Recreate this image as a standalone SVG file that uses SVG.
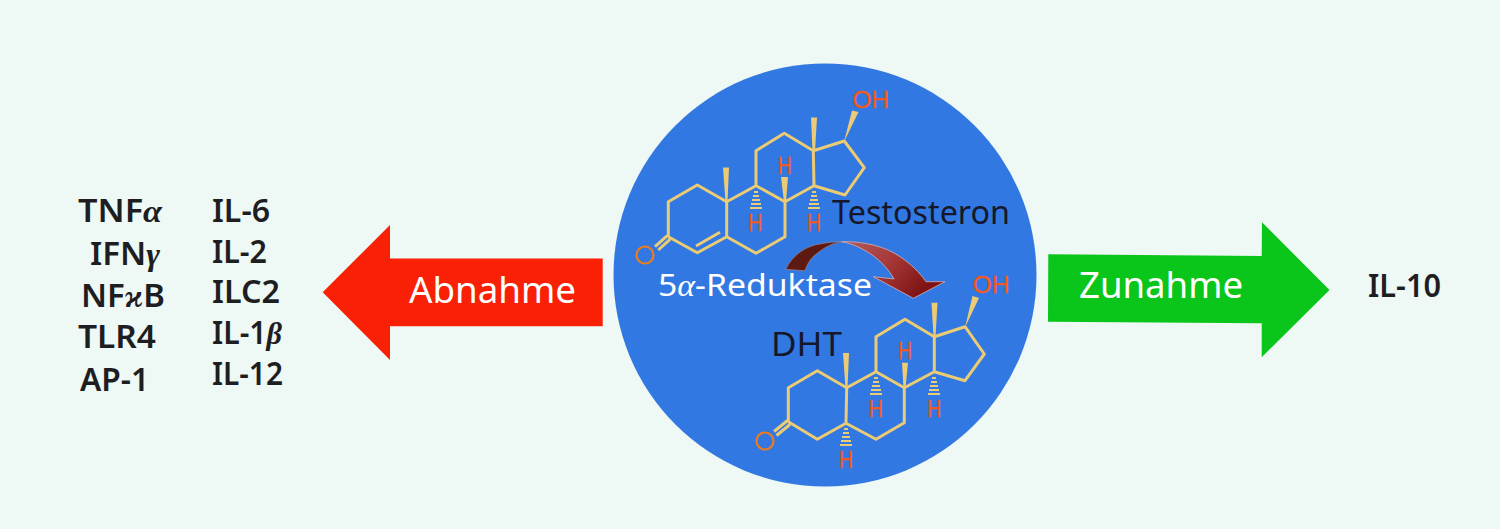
<svg xmlns="http://www.w3.org/2000/svg" width="1500" height="529" viewBox="0 0 1500 529">
<defs>
<linearGradient id="curve" gradientUnits="userSpaceOnUse" x1="850" y1="240" x2="915" y2="298"><stop offset="0" stop-color="#b0585a"/><stop offset="0.5" stop-color="#a83838"/><stop offset="1" stop-color="#7e1414"/></linearGradient>
</defs>
<style>
.bond{fill:none;stroke:#ebcb74;stroke-width:3;stroke-linejoin:round}
.wedge{fill:#ebcb74}
.hash{stroke:#ebcb74;stroke-width:2}
.at{font-family:"Liberation Sans",sans-serif;font-size:24px;fill:#f4581a;stroke:#f4581a;stroke-width:0.3;text-anchor:middle}
.o{fill:none;stroke:#ee7a1e;stroke-width:2.2}
.lab{font-family:"Noto Sans",sans-serif;font-size:32px;font-weight:600;fill:#1e1e22}
.name{font-family:"Noto Sans",sans-serif;font-size:32px;fill:#15172a}
.arr{font-family:"Noto Sans",sans-serif;font-size:36px;font-weight:400;fill:#fff}
.gr{font-family:"Liberation Serif",serif;font-style:italic}
</style>
<rect width="1500" height="529" fill="#eef8f5"/>
<g id="connectors">
<polygon points="322.7,292.3 390,225 390,258.5 602.7,258.5 602.7,326.3 390,326.3 390,360" fill="#fa2006"/>
<polygon points="1048.3,254.3 1261.7,256 1262,222.3 1329.5,290 1261.7,357.3 1261.7,323.3 1048,321.7" fill="#0ac61a"/>
</g>
<g id="node-circle"><circle cx="825" cy="275" r="211.5" fill="#3278e2"/></g>
<g id="node-testosteron">
<path class="bond" d="M668.3,236.7V201.7L697.3,185L726.7,201.7V236.7L697.3,252.7L668.3,236.7M726.7,201.7L756,185.7L785,201.7V236.7L756,253.3L726.7,236.7M756,185.7V150.7L784.3,133.3L813.3,150.7L814,185.7L785,201.7M813.3,150.7L844.3,141L864.3,167.7L845,195L814,185.7M667.3,235.7L655,246.7M670,239.3L658.3,250M696,246L720,232.3"/>
<polygon class="wedge" points="844,142 852,110.5 858.5,112"/>
<polygon class="wedge" points="811,117.5 817,117.5 815,151 812.5,151"/>
<polygon class="wedge" points="723,167.5 729,167.5 727.5,202 725.5,202"/>
<polygon class="wedge" points="781,177 788,177 786,202 784,202"/>
<path class="hash" d="M754,192h4M753,196h6M752,200h8M751,204h10M750,208h12M812,192h4M811,196h6M810,200h8M809,204h10M808,208h12"/>
<circle class="o" cx="645" cy="255" r="8.5"/>
<text class="at" x="870.7" y="107.5" textLength="37" lengthAdjust="spacingAndGlyphs">OH</text>
<text class="at" x="784.7" y="173.5" textLength="14" lengthAdjust="spacingAndGlyphs">H</text>
<text class="at" x="755.3" y="231" textLength="14" lengthAdjust="spacingAndGlyphs">H</text>
<text class="at" x="814" y="231" textLength="14" lengthAdjust="spacingAndGlyphs">H</text>
<text class="name" x="832" y="224" textLength="178" lengthAdjust="spacingAndGlyphs">Testosteron</text>
</g>
<g id="node-reduktase">
<path d="M785.7,269.3C792,256 805,246 820,244C828,242.5 835,241.7 841.7,241.7C835,242.5 825,246 813,256.7C809,261 806.500,266 805,270.7Z" fill="#5c1a12" stroke="#b08a80" stroke-width="0.6"/>
<path d="M841.7,241.7C862,241 885,246 900,256.7C911,264 920,273 926,281.700L945,281.700L913.300,298.300L873.300,276.700L894,279C888,268 878,258 866,251C858,246.500 850,243 841.7,241.700Z" fill="url(#curve)" stroke="#d5aeb0" stroke-width="0.8"/>
<text x="658" y="296" font-family="Noto Sans,sans-serif" font-size="31" fill="#fff" textLength="214" lengthAdjust="spacingAndGlyphs">5<tspan class="gr">α</tspan>-Reduktase</text>
</g>
<g id="node-dht">
<path class="bond" d="M788.3,421.7V387.7L817.3,370.7L846.7,387.7L846,423.3L817.3,439.3L788.3,421.7M846.7,387.7L876,371.7L904.3,387.7V422.7L876,439.3L846,423.3M876,371.7V336.7L905,319.3L934.3,336.7V371.7L904.3,387.7M934.3,336.7L965,326.7L984.3,354L965,380.7L934.3,371.7M787.500,420.500L774,431.500M790,424.500L776.500,435.500"/>
<polygon class="wedge" points="965,327.500 972.500,296 979,298"/>
<polygon class="wedge" points="931.5,302.700 937.5,302.700 935.5,337 933.5,337"/>
<polygon class="wedge" points="843,353 849,353 847.5,388 845.5,388"/>
<polygon class="wedge" points="902,362.700 908,362.700 905.5,388 903.5,388"/>
<path class="hash" d="M874,378h4M873,382h6M872,386h8M871,390h10M870,394h12M932,378h4M931,382h6M930,386h8M929,390h10M928,394h12M844,429h4M843,433h6M842,437h8M841,441h10M840,445h12"/>
<circle class="o" cx="765" cy="441" r="8.5"/>
<text class="at" x="991" y="293" textLength="37" lengthAdjust="spacingAndGlyphs">OH</text>
<text class="at" x="905" y="359" textLength="14" lengthAdjust="spacingAndGlyphs">H</text>
<text class="at" x="875.7" y="416.500" textLength="14" lengthAdjust="spacingAndGlyphs">H</text>
<text class="at" x="934.3" y="416.500" textLength="14" lengthAdjust="spacingAndGlyphs">H</text>
<text class="at" x="846" y="468" textLength="14" lengthAdjust="spacingAndGlyphs">H</text>
<text class="name" x="771" y="356" textLength="71" lengthAdjust="spacingAndGlyphs">DHT</text>
</g>
<g id="node-abnahme"><text class="arr" x="409" y="303" textLength="167" lengthAdjust="spacingAndGlyphs">Abnahme</text></g>
<g id="node-zunahme"><text class="arr" x="1079" y="298" textLength="164" lengthAdjust="spacingAndGlyphs">Zunahme</text></g>
<g id="node-il10"><text class="lab" x="1368" y="297" textLength="73" lengthAdjust="spacingAndGlyphs">IL-10</text></g>
<g id="node-left1">
<text class="lab" x="78" y="222" textLength="84" lengthAdjust="spacingAndGlyphs">TNF<tspan class="gr">α</tspan></text>
<text class="lab" x="90" y="265" textLength="70" lengthAdjust="spacingAndGlyphs">IFN<tspan class="gr">γ</tspan></text>
<text class="lab" x="81" y="307" textLength="84" lengthAdjust="spacingAndGlyphs">NF<tspan class="gr">ϰ</tspan>B</text>
<text class="lab" x="78" y="348" textLength="78" lengthAdjust="spacingAndGlyphs">TLR4</text>
<text class="lab" x="80" y="391" textLength="69" lengthAdjust="spacingAndGlyphs">AP-1</text>
</g>
<g id="node-left2">
<text class="lab" x="212" y="222" textLength="58" lengthAdjust="spacingAndGlyphs">IL-6</text>
<text class="lab" x="212" y="263" textLength="55" lengthAdjust="spacingAndGlyphs">IL-2</text>
<text class="lab" x="212" y="303" textLength="68" lengthAdjust="spacingAndGlyphs">ILC2</text>
<text class="lab" x="212" y="344" textLength="70" lengthAdjust="spacingAndGlyphs">IL-1<tspan class="gr">β</tspan></text>
<text class="lab" x="212" y="385" textLength="71" lengthAdjust="spacingAndGlyphs">IL-12</text>
</g>
</svg>
